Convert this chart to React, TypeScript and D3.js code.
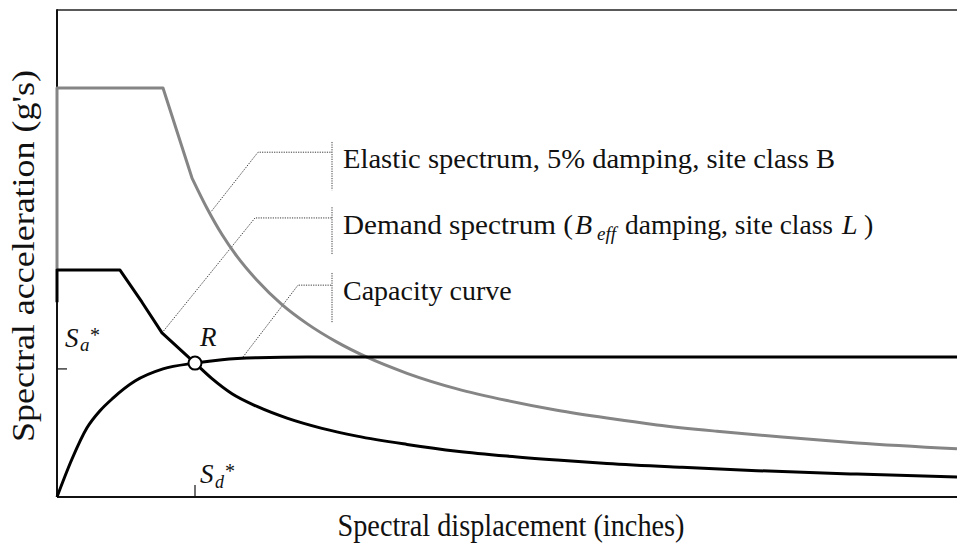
import React from "react";
import * as d3 from "d3";

// ---- Data (Sd in inches, Sa in g) ----
// Elastic spectrum, 5% damping, site class B
const elasticSd = [0, 0, 2.12, 2.7, 3.0, 3.3, 3.6, 4.0, 4.5, 5.0, 5.6, 6.2, 7.0, 8.0, 9.0, 10.0, 11.0, 12.0, 13.2, 14.5, 16.0, 18.0];
const elasticSa = [0.466, 0.84, 0.84, 0.655, 0.593, 0.539, 0.494, 0.445, 0.395, 0.356, 0.318, 0.287, 0.254, 0.222, 0.198, 0.178, 0.162, 0.148, 0.135, 0.123, 0.111, 0.099];

// Demand spectrum (B_eff damping, site class L)
const demandSd = [0, 0, 1.26, 1.7, 2.1, 2.76, 3.1, 3.5, 4.0, 4.6, 5.3, 6.0, 7.0, 8.0, 9.0, 10.0, 11.0, 12.5, 14.0, 16.0, 18.0];
const demandSa = [0.40, 0.466, 0.466, 0.40, 0.337, 0.275, 0.243, 0.212, 0.186, 0.162, 0.141, 0.125, 0.108, 0.094, 0.084, 0.076, 0.069, 0.061, 0.054, 0.047, 0.041];

// Capacity curve
const capacitySd = [0, 0.3, 0.6, 0.86, 1.12, 1.56, 2.12, 2.76, 3.3, 4.0, 5.0, 18];
const capacitySa = [0, 0.078, 0.142, 0.177, 0.203, 0.238, 0.263, 0.275, 0.282, 0.286, 0.2875, 0.2875];

const performancePoint = { sd: 2.76, sa: 0.275 };
const saStarTick = 0.263;
const sdStarTick = 2.76;

// leader lines: [sd, sa] points; bracket at x with sa range
const leaderElastic = [[3.06, 0.583], [4.02, 0.708], [5.5, 0.708]];
const leaderDemand = [[2.1, 0.337], [3.96, 0.573], [5.5, 0.573]];
const leaderCapacity = [[3.72, 0.2875], [4.82, 0.435], [5.5, 0.435]];
const bracketSd = 5.5;
const bracketElastic = [0.729, 0.630];
const bracketDemand = [0.595, 0.497];
const bracketCapacity = [0.46, 0.359];

const X_DOMAIN = [0, 18];
const Y_DOMAIN = [0, 1.0];

const W = 957;
const H = 544;
const FONT = "'Liberation Serif', 'Times New Roman', Times, serif";

export default function App() {
  const x = d3.scaleLinear().domain(X_DOMAIN).range([57, 957]);
  const y = d3.scaleLinear().domain(Y_DOMAIN).range([497, 10]);

  const line = d3
    .line<[number, number]>()
    .x((d) => x(d[0]))
    .y((d) => y(d[1]));

  const smooth = d3
    .line<[number, number]>()
    .x((d) => x(d[0]))
    .y((d) => y(d[1]))
    .curve(d3.curveMonotoneX);

  const zip = (a: number[], b: number[]) => a.map((v, i) => [v, b[i]] as [number, number]);

  // split spectra into straight head (vertical / plateau / kink) and smooth tail
  const elasticPts = zip(elasticSd, elasticSa);
  const demandPts = zip(demandSd, demandSa);
  const elastic = (line(elasticPts.slice(0, 4)) || "") + (smooth(elasticPts.slice(3)) || "").replace(/^M/, "L");
  const demand = (line(demandPts.slice(0, 5)) || "") + (smooth(demandPts.slice(4)) || "").replace(/^M/, "L");
  const capacity = smooth(zip(capacitySd, capacitySa)) || "";

  const leader = (pts: number[][]) => line(pts as [number, number][]) || "";
  const bx = x(bracketSd);
  const textX = bx + 11;

  const leaderStyle = {
    fill: "none",
    stroke: "#222",
    strokeWidth: 0.9,
    strokeDasharray: "1.2,1.2",
  } as React.CSSProperties;

  return (
    <svg
      width={W}
      height={H}
      style={{ position: "absolute", left: 0, top: 0, display: "block", background: "#fff" }}
      fontFamily={FONT}
    >
      <rect x={0} y={0} width={W} height={H} fill="#fff" />

      {/* frame */}
      <line x1={x(0)} x2={W} y1={y(Y_DOMAIN[1])} y2={y(Y_DOMAIN[1])} stroke="#222" strokeWidth={1.5} />
      <line x1={x(0)} x2={x(0)} y1={y(Y_DOMAIN[1]) - 0.75} y2={y(0)} stroke="#111" strokeWidth={2} />
      <line x1={x(0)} x2={W} y1={y(0)} y2={y(0)} stroke="#111" strokeWidth={2} />

      {/* ticks */}
      <line x1={x(0)} x2={x(0) + 10} y1={y(saStarTick)} y2={y(saStarTick)} stroke="#111" strokeWidth={1.2} />
      <line x1={x(sdStarTick)} x2={x(sdStarTick)} y1={y(0) - 12} y2={y(0)} stroke="#111" strokeWidth={1.2} />

      {/* leader lines */}
      <path d={leader(leaderElastic)} style={leaderStyle} />
      <path d={leader(leaderDemand)} style={leaderStyle} />
      <path d={leader(leaderCapacity)} style={leaderStyle} />
      <line x1={bx} x2={bx} y1={y(bracketElastic[0])} y2={y(bracketElastic[1])} style={leaderStyle} />
      <line x1={bx} x2={bx} y1={y(bracketDemand[0])} y2={y(bracketDemand[1])} style={leaderStyle} />
      <line x1={bx} x2={bx} y1={y(bracketCapacity[0])} y2={y(bracketCapacity[1])} style={leaderStyle} />

      {/* curves */}
      <path d={elastic} fill="none" stroke="#858585" strokeWidth={3} strokeLinejoin="round" />
      <path d={demand} fill="none" stroke="#000" strokeWidth={3} strokeLinejoin="round" />
      <path d={capacity} fill="none" stroke="#000" strokeWidth={3} strokeLinejoin="round" />

      {/* performance point */}
      <circle cx={x(performancePoint.sd)} cy={y(performancePoint.sa)} r={6.5} fill="#fff" stroke="#000" strokeWidth={2} />

      {/* annotation labels */}
      <text x={textX} y={168} fontSize={28} fill="#111" textLength={492} lengthAdjust="spacingAndGlyphs">
        Elastic spectrum, 5% damping, site class B
      </text>
      <text x={textX} y={234} fontSize={28} fill="#111">
        <tspan textLength={230} lengthAdjust="spacingAndGlyphs">Demand spectrum (</tspan>
        <tspan x={575} fontStyle="italic">B</tspan>
        <tspan x={597} dy={6} fontSize={19} fontStyle="italic">eff</tspan>
        <tspan x={625} dy={-6} textLength={208} lengthAdjust="spacingAndGlyphs">damping, site class</tspan>
        <tspan x={842} fontStyle="italic">L</tspan>
        <tspan x={864}>)</tspan>
      </text>
      <text x={textX} y={300} fontSize={28} fill="#111">
        Capacity curve
      </text>

      {/* Sa*, Sd*, R */}
      <text x={65} y={347} fontSize={27} fontStyle="italic" fill="#111">
        S
        <tspan x={80} y={351} fontSize={19}>a</tspan>
        <tspan x={90} y={342} fontSize={20} fontStyle="normal">*</tspan>
      </text>

      <text x={200} y={483} fontSize={27} fontStyle="italic" fill="#111">
        S
        <tspan x={215} y={488} fontSize={18}>d</tspan>
        <tspan x={225} y={478} fontSize={20} fontStyle="normal">*</tspan>
      </text>

      <text x={200} y={346} fontSize={27} fontStyle="italic" fill="#111">R</text>

      {/* axis titles */}
      <text
        x={511}
        y={536}
        fontSize={32}
        textAnchor="middle"
        fill="#111"
        textLength={347}
        lengthAdjust="spacingAndGlyphs"
      >
        Spectral displacement (inches)
      </text>
      <text
        transform={`translate(34, 256) rotate(-90)`}
        x={0}
        y={0}
        fontSize={32}
        textAnchor="middle"
        fill="#111"
        textLength={372}
        lengthAdjust="spacingAndGlyphs"
      >
        Spectral acceleration (g's)
      </text>
    </svg>
  );
}
